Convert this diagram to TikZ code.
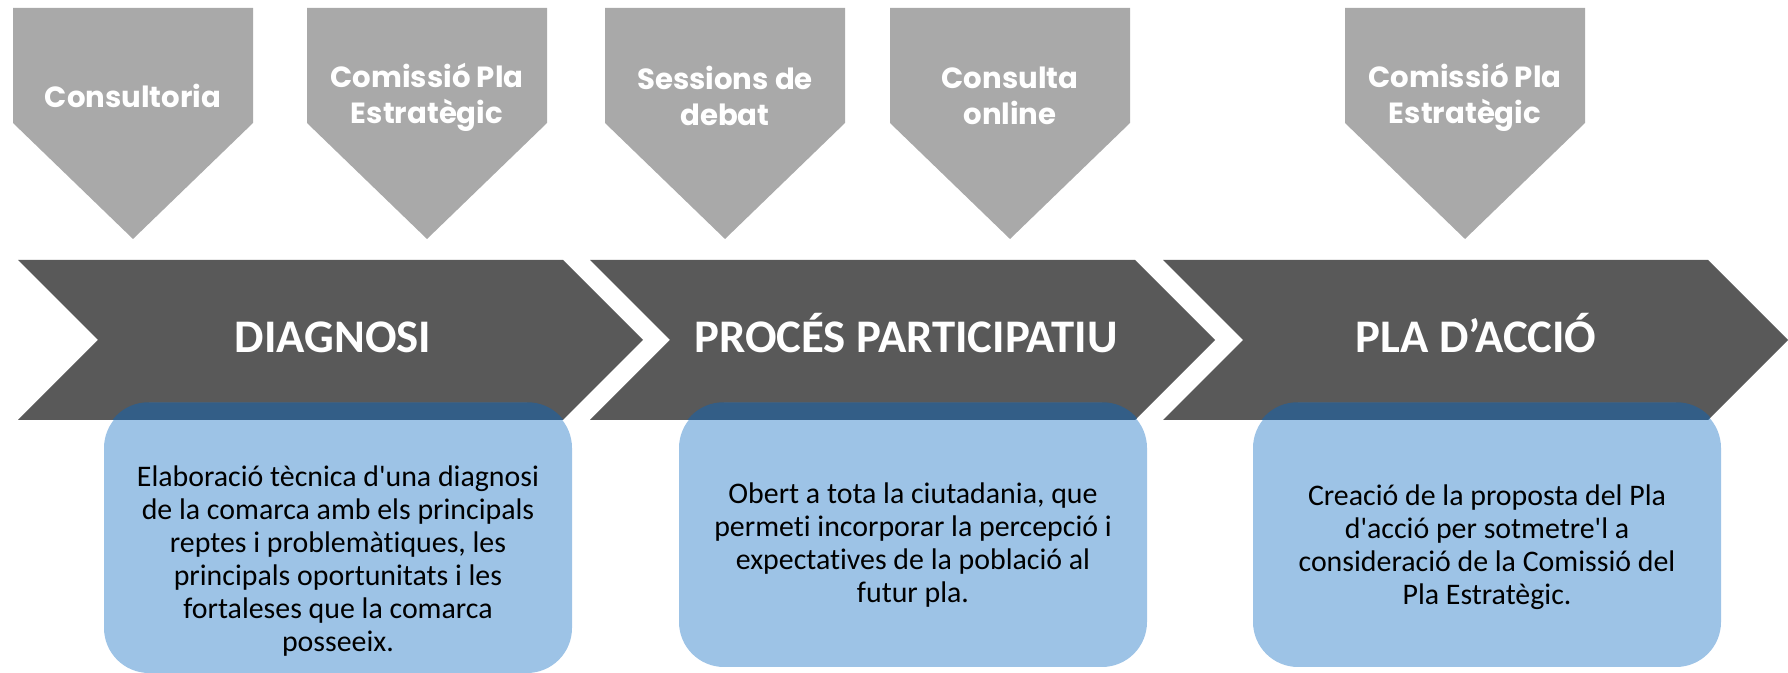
\documentclass[tikz,border=0pt]{standalone}
\usepackage{fontspec}
\setmainfont{Carlito}[Ligatures=NoCommon]
\newfontfamily\gotica{Poppins}
\definecolor{cinzaclaro}{HTML}{A9A9A9}
\definecolor{cinzaescuro}{HTML}{595959}
\definecolor{azulclaro}{HTML}{9DC3E6}
\definecolor{azulescuro}{HTML}{335E87}
\tikzset{
  etiqueta/.style={text=white, align=center, font=\gotica\bfseries\fontsize{8.3}{10.2}\selectfont},
  titulo/.style={text=white, anchor=base, font=\bfseries\fontsize{13.3}{15}\selectfont},
  caixa/.style={rectangle, rounded corners=4.5mm, fill=azulclaro, inner sep=0pt, minimum width=46.8mm},
  descricao/.style={align=center, text=black, font=\fontsize{8.5}{9.35}\selectfont}
}
\begin{document}
\begin{tikzpicture}[x=0.1mm, y=-0.1mm]
        \useasboundingbox (0,0) rectangle (1788,673);

        % Pentagonos de cima
        \fill[cinzaclaro] (13,8) -- (253,8) -- (253,123) -- (133,239) -- (13,123) -- cycle;
        \fill[cinzaclaro] (307,8) -- (547,8) -- (547,123) -- (427,239) -- (307,123) -- cycle;
        \fill[cinzaclaro] (605,8) -- (845,8) -- (845,123) -- (725,239) -- (605,123) -- cycle;
        \fill[cinzaclaro] (890,8) -- (1130,8) -- (1130,123) -- (1010,239) -- (890,123) -- cycle;
        \fill[cinzaclaro] (1345,8) -- (1585,8) -- (1585,123) -- (1465,239) -- (1345,123) -- cycle;

        \node[etiqueta] (lbl1) at (133,96) {Consultoria};
        \node[etiqueta] (lbl2) at (427,97) {Comissió Pla\\Estratègic};
        \node[etiqueta] (lbl3) at (725,96) {Sessions de\\debat};
        \node[etiqueta] (lbl4) at (1010,96) {Consulta\\online};
        \node[etiqueta] (lbl5) at (1465,97) {Comissió Pla\\Estratègic};

        % Setas
        \fill[cinzaescuro] (18,260) -- (563,260) -- (643,340) -- (563,420) -- (18,420) -- (98,340) -- cycle;
        \fill[cinzaescuro] (590,260) -- (1135,260) -- (1215,340) -- (1135,420) -- (590,420) -- (670,340) -- cycle;
        \fill[cinzaescuro] (1163,260) -- (1708,260) -- (1788,340) -- (1708,420) -- (1163,420) -- (1243,340) -- cycle;

        \node[titulo] (ttl1) at (333,353) {DIAGNOSI};
        \node[titulo] (ttl2) at (906,353) {PROCÉS PARTICIPATIU};
        \node[titulo] (ttl3) at (1476,353) {PLA D’ACCIÓ};

        % Caixas
        \node[caixa, minimum height=27mm] (box1) at (338,538) {};
        \node[caixa, minimum height=26.4mm] (box2) at (913,535) {};
        \node[caixa, minimum height=26.4mm] (box3) at (1487,535) {};

        \begin{scope}
          \clip (18,260) -- (563,260) -- (643,340) -- (563,420) -- (18,420) -- (98,340) -- cycle
                (590,260) -- (1135,260) -- (1215,340) -- (1135,420) -- (590,420) -- (670,340) -- cycle
                (1163,260) -- (1708,260) -- (1788,340) -- (1708,420) -- (1163,420) -- (1243,340) -- cycle;
          \fill[azulescuro, rounded corners=4.5mm] (box1.south west) rectangle (box1.north east);
          \fill[azulescuro, rounded corners=4.5mm] (box2.south west) rectangle (box2.north east);
          \fill[azulescuro, rounded corners=4.5mm] (box3.south west) rectangle (box3.north east);
        \end{scope}

        \node[descricao] (txt1) at ([yshift=-2.3mm]box1.center) {Elaboració tècnica d\textquotesingle una diagnosi\\de la comarca amb els principals\\reptes i problemàtiques, les\\principals oportunitats i les\\fortaleses que la comarca\\posseeix.};
        \node[descricao] (txt2) at ([yshift=-1mm]box2.center) {Obert a tota la ciutadania, que\\permeti incorporar la percepció i\\expectatives de la població al\\futur pla.};
        \node[descricao] (txt3) at ([yshift=-1.2mm]box3.center) {Creació de la proposta del Pla\\d\textquotesingle acció per sotmetre\textquotesingle l a\\consideració de la Comissió del\\Pla Estratègic.};
    \end{tikzpicture}
\end{document}
